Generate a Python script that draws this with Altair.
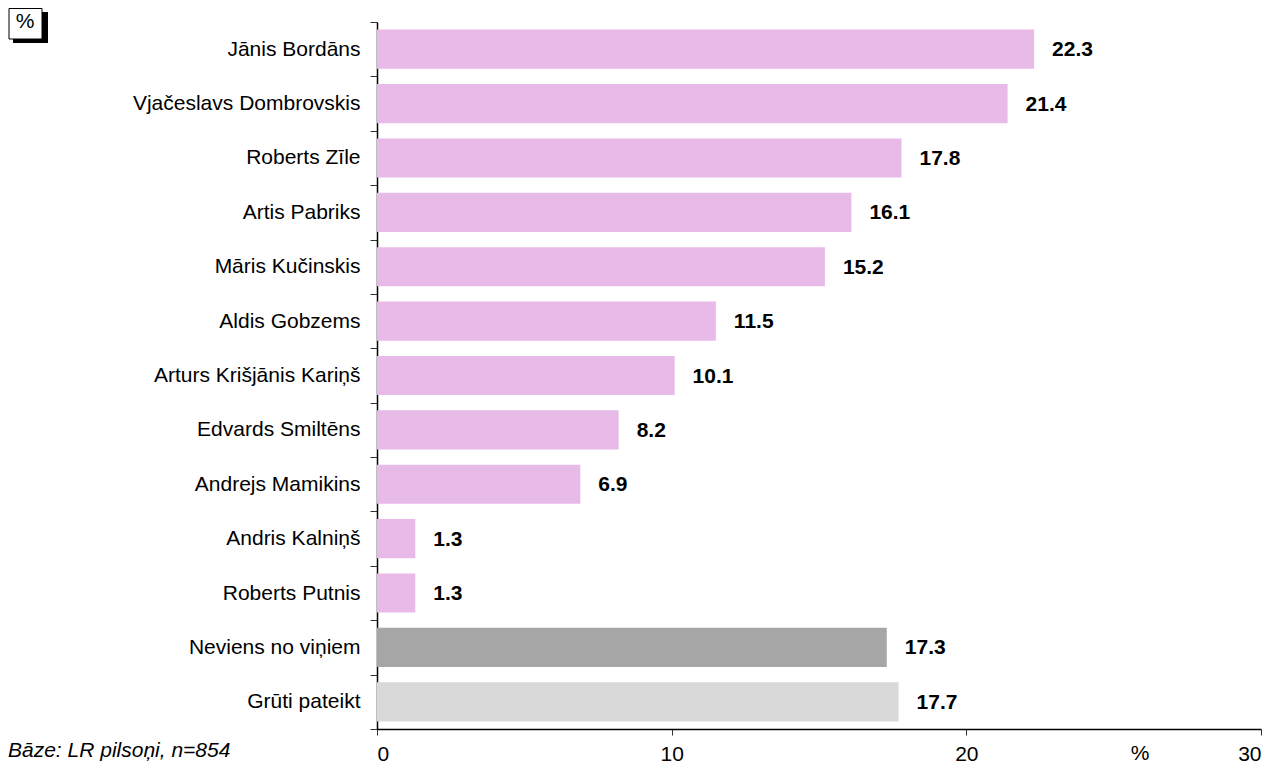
import altair as alt
import pandas as pd

names = ["Jānis Bordāns", "Vjačeslavs Dombrovskis", "Roberts Zīle", "Artis Pabriks",
         "Māris Kučinskis", "Aldis Gobzems", "Arturs Krišjānis Kariņš", "Edvards Smiltēns",
         "Andrejs Mamikins", "Andris Kalniņš", "Roberts Putnis", "Neviens no viņiem",
         "Grūti pateikt"]
values = [22.3, 21.4, 17.8, 16.1, 15.2, 11.5, 10.1, 8.2, 6.9, 1.3, 1.3, 17.3, 17.7]
groups = ["kandidāts"] * 11 + ["neviens", "grūti"]
x_ticks = [0, 10, 20, 30]
footnote = "Bāze: LR pilsoņi, n=854"

FONT = "Liberation Sans, Arial, sans-serif"
FS = 21
W, H = 884, 707

df = pd.DataFrame({"name": names, "value": values, "group": groups})
df["label"] = [f"{v:.1f}" for v in values]

y_enc = alt.Y("name:N", sort=names, title=None,
              scale=alt.Scale(paddingInner=0, paddingOuter=0),
              axis=alt.Axis(tickBand="extent", tickSize=7, labelPadding=10,
                            labelFontSize=FS, labelFont=FONT, labelColor="black",
                            domainColor="black", tickColor="#333", labelLimit=400))
x_enc = alt.X("value:Q", title=None,
              scale=alt.Scale(domain=[0, 30], nice=False),
              axis=alt.Axis(values=x_ticks, grid=False, tickSize=6, labelPadding=8,
                            labelFontSize=FS, labelFont=FONT, labelColor="black",
                            domainColor="black", tickColor="#333", format="d"))

base = alt.Chart(df)
bars = base.mark_bar(height={"band": 0.72}).encode(
    y=y_enc, x=x_enc,
    color=alt.Color("group:N", legend=None,
                    scale=alt.Scale(domain=["kandidāts", "neviens", "grūti"],
                                    range=["#E8BAE8", "#A6A6A6", "#D9D9D9"])),
)
labels = base.mark_text(align="left", baseline="middle", dx=18, dy=1, fontSize=FS,
                        fontWeight="bold", font=FONT, color="black").encode(
    y=alt.Y("name:N", sort=names), x="value:Q", text="label:N")

one = pd.DataFrame({"k": [0]})
ann = alt.Chart(one)
pct_axis = ann.mark_text(align="center", baseline="top", fontSize=FS, font=FONT,
                         color="black").encode(
    x=alt.datum(25.9), y=alt.value(H + 14), text=alt.value("%"))
shadow = ann.mark_rect(color="black").encode(
    x=alt.value(-364), x2=alt.value(-329), y=alt.value(-10), y2=alt.value(21))
box = ann.mark_rect(fill="white", stroke="black", strokeWidth=1).encode(
    x=alt.value(-368), x2=alt.value(-335), y=alt.value(-13.5), y2=alt.value(17))
box_txt = ann.mark_text(align="center", baseline="middle", fontSize=FS, font=FONT,
                        color="black").encode(
    x=alt.value(-352), y=alt.value(0), text=alt.value("%"))
foot = ann.mark_text(align="left", baseline="alphabetic", fontSize=FS, font=FONT,
                     fontStyle="italic", color="black").encode(
    x=alt.value(-369), y=alt.value(H + 28), text=alt.value(footnote))

chart = alt.layer(bars, labels, pct_axis, shadow, box, box_txt, foot).properties(
    width=W, height=H,
    autosize=alt.AutoSizeParams(type="none"),
    padding={"left": 369, "right": 14, "top": 14, "bottom": 40},
).configure_view(stroke=None).configure_axis(domainWidth=1.5)

chart.save("out.html", embed_options={"renderer": "svg", "actions": False})
